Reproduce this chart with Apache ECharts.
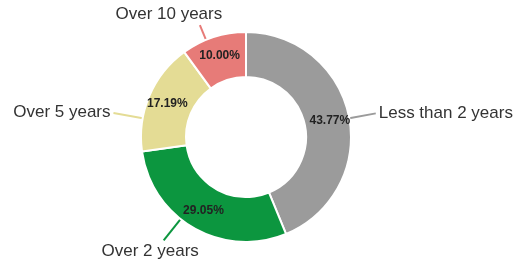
<!DOCTYPE html>
<html>
<head>
<meta charset="utf-8">
<script src="https://cdn.jsdelivr.net/npm/echarts@6/dist/echarts.min.js"></script>
<style>
  html,body{margin:0;padding:0;background:#fff;}
  #chart{width:521px;height:262px;}
</style>
</head>
<body>
<div id="chart"></div>
<script>
var categories = ['Less than 2 years', 'Over 2 years', 'Over 5 years', 'Over 10 years'];
var shares = [43.77, 29.05, 17.19, 10.00];
var colors = ['#9b9b9b', '#0c963f', '#e4dc95', '#e77b78'];
// nudges for outer labels, like the hand placed labels of the original
var labelShift = [[5, -1], [23, 11], [-15, 22], [24, -10]];
// where on the label box the leader line ends (fraction of width, height)
var labelAnchor = [[0, 0.5], [0.62, 0], [1, 0.5], [0.78, 1]];

var cx = 246, cy = 137, rIn = 60, rOut = 105;

var total = 0;
shares.forEach(function(v){ total += v; });
var startDeg = [];
var acc = 0;
shares.forEach(function(v){ startDeg.push(acc / total * 360); acc += v; });

var pieData = [];
categories.forEach(function(name, i){
	pieData.push({ name: name, value: shares[i], itemStyle: { color: colors[i] } });
});

var myChart = echarts.init(document.getElementById('chart'));

var option = {
	animation: false,
	series: [{
		// outer ring with category labels
		type: 'pie',
		center: [cx, cy],
		radius: [rIn, rOut],
		startAngle: 90,
		clockwise: true,
		avoidLabelOverlap: false,
		itemStyle: { borderColor: '#fff', borderWidth: 2 },
		label: {
			show: true,
			position: 'outside',
			formatter: '{b}',
			fontFamily: 'Liberation Sans, Arial, sans-serif',
			fontSize: 17,
			color: '#333'
		},
		labelLine: { show: true, length: 14, length2: 6, lineStyle: { width: 2 } },
		labelLayout: function(p){
			var i = p.dataIndex;
			var s = labelShift[i], a = labelAnchor[i];
			var r = p.labelRect;
			var ax = r.x + s[0] + a[0] * r.width;
			var ay = r.y + s[1] + a[1] * r.height;
			// pull the end a little towards the pie
			var vx = cx - ax, vy = cy - ay;
			var vl = Math.sqrt(vx*vx + vy*vy);
			var end = [ax + vx / vl * 3, ay + vy / vl * 3];
			// start on the outer arc of the slice, as close to the label as the slice allows
			var th = Math.atan2(end[0] - cx, -(end[1] - cy)) * 180 / Math.PI;
			if (th < 0) th += 360;
			var lo = startDeg[i] + 3, hi = startDeg[i] + shares[i] / total * 360 - 3;
			th = Math.max(lo, Math.min(hi, th));
			var rad = th * Math.PI / 180;
			var start = [cx + rOut * Math.sin(rad), cy - rOut * Math.cos(rad)];
			return { dx: s[0], dy: s[1], labelLinePoints: [start, end, end] };
		},
		data: pieData
	}, {
		// percentages inside
		type: 'pie',
		center: [cx, cy],
		radius: [rIn, rOut],
		startAngle: 90,
		silent: true,
		itemStyle: { color: 'transparent' },
		label: {
			show: true,
			position: 'inside',
			formatter: function(p){ return p.value.toFixed(2) + '%'; },
			fontFamily: 'Liberation Sans, Arial, sans-serif',
			fontSize: 12,
			fontWeight: 'bold',
			color: '#222'
		},
		labelLine: { show: false },
		data: pieData.map(function(d){ return { name: d.name, value: d.value }; })
	}]
};

myChart.setOption(option);
</script>
</body>
</html>
